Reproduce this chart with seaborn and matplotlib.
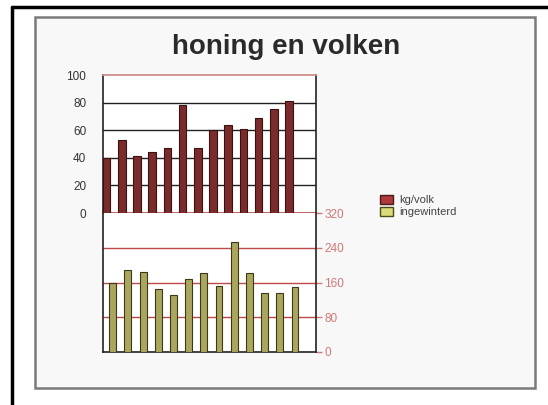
import numpy as np
import pandas as pd
import matplotlib
matplotlib.use("Agg")
import matplotlib.pyplot as plt
from matplotlib.patches import Rectangle, Patch
from matplotlib.lines import Line2D
import seaborn as sns

# data
jaren = [str(i) for i in range(1, 14)]
kg_per_volk = [40, 53, 41, 44, 47, 78, 47, 60, 64, 61, 69, 75, 81]
ingewinterd = [158, 188, 185, 144, 132, 168, 181, 151, 254, 181, 136, 136, 149]
links_ticks = [0, 20, 40, 60, 80, 100]
rechts_ticks = [0, 80, 160, 240, 320]

sns.set_theme(style="white")
plt.rcParams['font.family'] = ['Liberation Sans', 'DejaVu Sans']

fig = plt.figure(figsize=(5.48, 4.05), dpi=100)
fig.patch.set_facecolor("white")

# scan frame
fig.add_artist(Rectangle((35 / 548, 1 - 388 / 405), 500 / 548, 371 / 405,
                         transform=fig.transFigure, facecolor="#f8f8f8",
                         edgecolor="#7a7a7a", linewidth=1.8, zorder=0))
fig.add_artist(Line2D([12 / 548, 12 / 548], [0, 1 - 7 / 405], transform=fig.transFigure,
                      color="black", linewidth=2.5))
fig.add_artist(Line2D([12 / 548, 1], [1 - 7 / 405, 1 - 7 / 405], transform=fig.transFigure,
                      color="black", linewidth=2.5))

ax1 = fig.add_axes([103 / 548, 1 - 213 / 405, 213 / 548, 138 / 405])
ax2 = fig.add_axes([103 / 548, 1 - 352 / 405, 213 / 548, 139 / 405])

df1 = pd.DataFrame({"jaar": jaren, "kg/volk": kg_per_volk})
df2 = pd.DataFrame({"jaar": jaren, "ingewinterd": ingewinterd})

sns.barplot(data=df1, x="jaar", y="kg/volk", ax=ax1, color="#7a2c2c",
            edgecolor="#3a1010", linewidth=0.8, width=0.5, saturation=1, zorder=3)
sns.barplot(data=df2, x="jaar", y="ingewinterd", ax=ax2, color="#aaa65e",
            edgecolor="#3a3a18", linewidth=0.8, width=0.45, saturation=1, zorder=3)

# upper panel
ax1.set_facecolor("white")
ax1.set_xlim(-0.24, 13.78)
ax1.set_ylim(0, 100)
ax1.set_yticks(links_ticks)
ax1.set_xticks([])
ax1.set_xlabel("")
ax1.set_ylabel("")
ax1.tick_params(axis="y", labelsize=8.5, colors="#333333", length=0, pad=12)
for y in links_ticks[1:-1]:
    ax1.axhline(y, color="#222222", linewidth=1, zorder=1)
for s in ["left", "right"]:
    ax1.spines[s].set_color("#222222")
    ax1.spines[s].set_linewidth(1.2)
ax1.spines["top"].set_color("#d08a8a")
ax1.spines["bottom"].set_color("#c05050")

# lower panel
ax2.set_facecolor("white")
ax2.set_xlim(-0.64, 13.38)
ax2.set_ylim(0, 320)
ax2.set_xticks([])
ax2.set_xlabel("")
ax2.set_ylabel("")
ax2.yaxis.tick_right()
ax2.set_yticks(rechts_ticks)
ax2.tick_params(axis="y", labelsize=8.5, colors="#d07878", length=4, width=1, pad=2,
                left=False, right=True)
for y in rechts_ticks[1:-1]:
    ax2.axhline(y, color="#c04848", linewidth=1, zorder=1)
ax2.spines["top"].set_visible(False)
for s in ["left", "bottom", "right"]:
    ax2.spines[s].set_color("#222222")
    ax2.spines[s].set_linewidth(1.2)

fig.text(286 / 548, 1 - 47 / 405, "honing en volken", ha="center", va="center",
         fontsize=20, fontweight="bold", color="#2a2a2a")

handles = [Patch(facecolor="#b03a3a", edgecolor="#4a1a1a", label="kg/volk"),
           Patch(facecolor="#d8dc78", edgecolor="#4a4a1a", label="ingewinterd")]
fig.legend(handles=handles, loc="upper left", bbox_to_anchor=(370 / 548, 1 - 185 / 405),
           frameon=False, fontsize=8, handlelength=1.2, handleheight=0.8,
           handletextpad=0.5, labelspacing=0.2, labelcolor="#444444")

fig.savefig("out.png", dpi=100, facecolor="white")
